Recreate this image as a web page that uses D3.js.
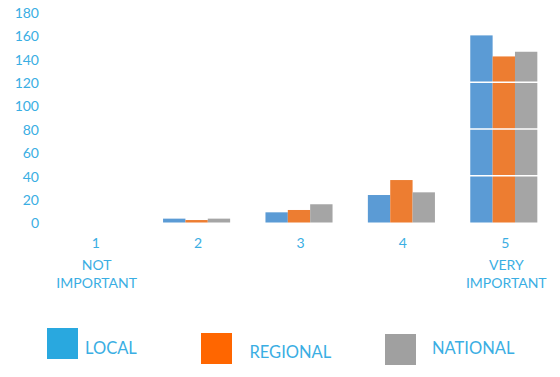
<!DOCTYPE html>
<html>
<head>
<meta charset="utf-8">
<script src="https://cdn.jsdelivr.net/npm/d3@7"></script>
<style>
  body { margin: 0; background: #fff; }
  svg { display: block; font-family: Lato, "Open Sans", sans-serif; }
</style>
</head>
<body>
<div id="chart"></div>
<script>
// data
var categories = ["1", "2", "3", "4", "5"];
var categoryNotes = [["NOT", "IMPORTANT"], [], [], [], ["VERY", "IMPORTANT"]];
var seriesNames = ["LOCAL", "REGIONAL", "NATIONAL"];
var localValues = [0, 3.3, 8.7, 23.5, 160];
var regionalValues = [0, 2.1, 10.7, 36.3, 142];
var nationalValues = [0, 3.3, 15.6, 25.8, 146];
var yTicks = [0, 20, 40, 60, 80, 100, 120, 140, 160, 180];
var gridValues = [40, 80, 120];

var barColors = ["#5b9bd5", "#ed7d31", "#a5a5a5"];
var legendColors = ["#29a8df", "#ff6600", "#a0a0a0"];
var textColor = "#3aaee3";

function init() {
  var w = 560;
  var h = 377;
  var series = [localValues, regionalValues, nationalValues];

  var svg = d3.select("#chart")
    .append("svg")
    .attr("width", w)
    .attr("height", h);

  var xScale = d3.scaleBand()
    .domain(categories)
    .range([43, 555])
    .paddingInner(0.345)
    .paddingOuter(0.1725);

  var xSub = d3.scaleBand()
    .domain(d3.range(seriesNames.length))
    .range([0, xScale.bandwidth()]);

  var yScale = d3.scaleLinear()
    .domain([0, 180])
    .range([222.5, 12]);

  //y tick labels
  svg.append("g")
    .selectAll("text")
    .data(yTicks)
    .enter()
    .append("text")
    .attr("x", 39)
    .attr("y", function (d) { return yScale(d) + 1; })
    .attr("dy", "0.35em")
    .attr("text-anchor", "end")
    .attr("font-size", "14px")
    .attr("fill", textColor)
    .text(function (d) { return d; });

  //bars
  var groups = svg.selectAll(".group")
    .data(categories)
    .enter()
    .append("g")
    .attr("class", "group")
    .attr("transform", function (d) { return "translate(" + xScale(d) + ",0)"; });

  groups.selectAll("rect")
    .data(function (d, i) {
      return series.map(function (s, j) { return { s: j, v: s[i] }; });
    })
    .enter()
    .append("rect")
    .attr("x", function (d) { return xSub(d.s); })
    .attr("y", function (d) { return yScale(d.v); })
    .attr("width", xSub.bandwidth())
    .attr("height", function (d) { return yScale(0) - yScale(d.v); })
    .attr("fill", function (d) { return barColors[d.s]; });

  //white gridlines showing over the bars
  svg.append("g")
    .selectAll("line")
    .data(gridValues)
    .enter()
    .append("line")
    .attr("x1", 43)
    .attr("x2", 555)
    .attr("y1", function (d) { return yScale(d); })
    .attr("y2", function (d) { return yScale(d); })
    .attr("stroke", "#fff")
    .attr("stroke-width", 1.5);

  //category labels
  var labels = svg.append("g")
    .selectAll("g")
    .data(categories)
    .enter()
    .append("g");

  labels.append("text")
    .attr("x", function (d) { return xScale(d) + xScale.bandwidth() / 2 + 1.5; })
    .attr("y", 248)
    .attr("text-anchor", "middle")
    .attr("font-size", "14px")
    .attr("fill", textColor)
    .text(function (d) { return d; });

  labels.each(function (d, i) {
    var g = d3.select(this);
    categoryNotes[i].forEach(function (line, k) {
      g.append("text")
        .attr("x", xScale(d) + xScale.bandwidth() / 2 + 2.5)
        .attr("y", 270 + k * 18)
        .attr("text-anchor", "middle")
        .attr("font-size", "14px")
        .attr("fill", textColor)
        .text(line);
    });
  });

  //legend
  var legendX = [47, 201, 385];
  var legendY = [328, 333, 334];
  var legend = svg.append("g")
    .selectAll("g")
    .data(seriesNames)
    .enter()
    .append("g");

  legend.append("rect")
    .attr("x", function (d, i) { return legendX[i]; })
    .attr("y", function (d, i) { return legendY[i]; })
    .attr("width", 31)
    .attr("height", 31)
    .attr("fill", function (d, i) { return legendColors[i]; });

  legend.append("text")
    .attr("x", function (d, i) { return legendX[i] + [38, 48.5, 47][i]; })
    .attr("y", function (d, i) { return legendY[i] + [26, 25, 20][i]; })
    .attr("font-size", "16.5px")
    .attr("fill", textColor)
    .text(function (d) { return d; });
}

window.onload = init;
</script>
</body>
</html>
